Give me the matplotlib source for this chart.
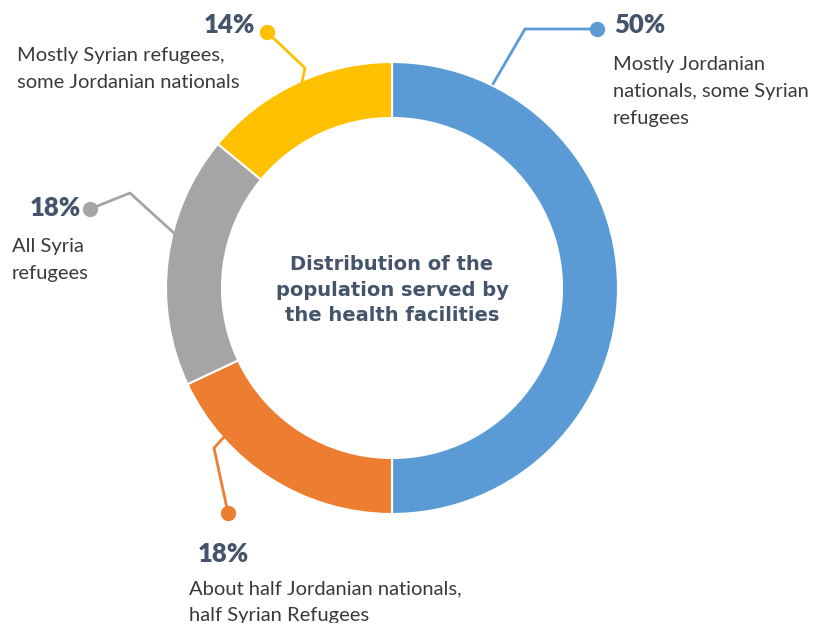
import matplotlib.pyplot as plt

# donut data, clockwise from the top
shares = [50, 18, 18, 14]
pct_labels = ["50%", "18%", "18%", "14%"]
descriptions = [
    "Mostly Jordanian\nnationals, some Syrian\nrefugees",
    "About half Jordanian nationals,\nhalf Syrian Refugees",
    "All Syria\nrefugees",
    "Mostly Syrian refugees,\nsome Jordanian nationals",
]
colors = ["#5B9BD5", "#ED7D31", "#A5A5A5", "#FFC000"]
center_title = "Distribution of the\npopulation served by\nthe health facilities"

W, H = 815, 623
txt_color = "#44546A"


def py(y):
    # pixel row (from top) -> data y
    return H - y


fig = plt.figure(figsize=(W / 100, H / 100), dpi=100)
ax = fig.add_axes([0, 0, 1, 1])

ax.pie(shares, colors=colors, startangle=90, counterclock=False,
       center=(392, py(288)), radius=226,
       wedgeprops=dict(width=56, edgecolor="white", linewidth=1.5))

ax.set_xlim(0, W)
ax.set_ylim(0, H)
ax.set_aspect("equal")
ax.axis("off")

# leader lines: dot end, elbow, wedge end
leaders = [
    [(597, 29), (525, 29), (493, 84)],
    [(228, 513), (214, 448), (225, 436)],
    [(90, 209), (130, 193), (175, 234)],
    [(267, 32), (305, 68), (302, 82)],
]
for pts, c in zip(leaders, colors):
    xs = [p[0] for p in pts]
    ys = [py(p[1]) for p in pts]
    ax.plot(xs, ys, color=c, lw=2, solid_capstyle="round")
    ax.plot(xs[0], ys[0], "o", color=c, ms=10)

# percent labels and descriptions (x, y of pct, x, y of description top)
label_pos = [
    (614, 25, 613, 56),
    (198, 554, 189, 580),
    (30, 208, 12, 238),
    (204, 25, 17, 47),
]
for pct, desc, (px, pyy, dx, dy) in zip(pct_labels, descriptions, label_pos):
    ax.text(px, py(pyy), pct, fontsize=18.5, fontweight="heavy", color=txt_color,
            family="Lato", ha="left", va="center")
    ax.text(dx, py(dy), desc, fontsize=14.5, color="#3A3A3A", family="Lato",
            ha="left", va="top", linespacing=1.72)

ax.text(392, py(290), center_title, fontsize=14, fontweight="bold",
        color=txt_color, family="DejaVu Sans", ha="center", va="center",
        linespacing=1.42)

fig.savefig("out.png", dpi=100)
